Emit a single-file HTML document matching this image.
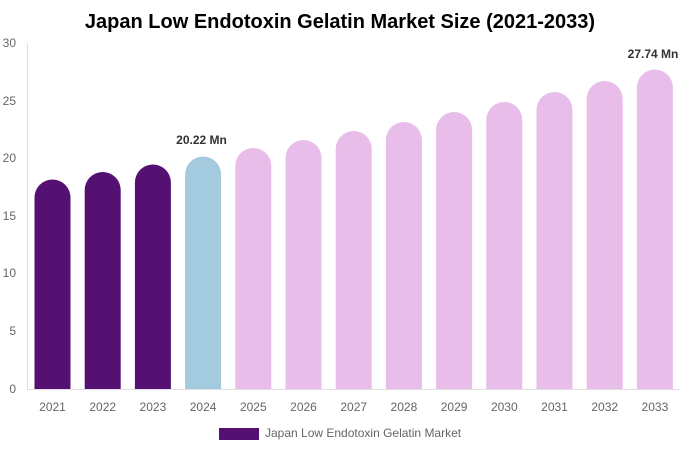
<!DOCTYPE html>
<html><head><meta charset="utf-8"><style>
html,body{margin:0;padding:0;background:#fff;width:680px;height:450px;overflow:hidden}
svg text{font-family:"Liberation Sans",Arial,sans-serif}
</style></head><body>
<svg width="680" height="450" viewBox="0 0 680 450" xmlns="http://www.w3.org/2000/svg">
<text x="340" y="28" text-anchor="middle" font-size="20" font-weight="bold" fill="#000">Japan Low Endotoxin Gelatin Market Size (2021-2033)</text>
<g font-size="12" fill="#666" text-anchor="end">
<text x="16" y="47">30</text><text x="16" y="105">25</text><text x="16" y="162">20</text>
<text x="16" y="220">15</text><text x="16" y="277">10</text><text x="16" y="335">5</text><text x="16" y="393">0</text>
</g>
<line x1="27.5" y1="43" x2="27.5" y2="389" stroke="#e0e0e0" stroke-width="1"/>
<line x1="27" y1="389.5" x2="680" y2="389.5" stroke="#e0e0e0" stroke-width="1"/>
<path d="M34.5,389 V197.5 A18,18 0 0 1 70.5,197.5 V389 Z" fill="#541172"/>
<path d="M84.7,389 V190 A18,18 0 0 1 120.7,190 V389 Z" fill="#541172"/>
<path d="M134.9,389 V182.5 A18,18 0 0 1 170.9,182.5 V389 Z" fill="#541172"/>
<path d="M185.1,389 V174.5 A18,18 0 0 1 221.1,174.5 V389 Z" fill="#a4cadf"/>
<path d="M235.3,389 V166 A18,18 0 0 1 271.3,166 V389 Z" fill="#e8bde9"/>
<path d="M285.5,389 V158 A18,18 0 0 1 321.5,158 V389 Z" fill="#e8bde9"/>
<path d="M335.7,389 V149 A18,18 0 0 1 371.7,149 V389 Z" fill="#e8bde9"/>
<path d="M385.9,389 V140 A18,18 0 0 1 421.9,140 V389 Z" fill="#e8bde9"/>
<path d="M436.1,389 V130 A18,18 0 0 1 472.1,130 V389 Z" fill="#e8bde9"/>
<path d="M486.3,389 V120 A18,18 0 0 1 522.3,120 V389 Z" fill="#e8bde9"/>
<path d="M536.5,389 V110 A18,18 0 0 1 572.5,110 V389 Z" fill="#e8bde9"/>
<path d="M586.7,389 V99 A18,18 0 0 1 622.7,99 V389 Z" fill="#e8bde9"/>
<path d="M636.9,389 V87.5 A18,18 0 0 1 672.9,87.5 V389 Z" fill="#e8bde9"/>
<g font-size="12" fill="#666" text-anchor="middle">
<text x="52.5" y="411">2021</text><text x="102.7" y="411">2022</text><text x="152.9" y="411">2023</text>
<text x="203.1" y="411">2024</text><text x="253.3" y="411">2025</text><text x="303.5" y="411">2026</text>
<text x="353.7" y="411">2027</text><text x="403.9" y="411">2028</text><text x="454.1" y="411">2029</text>
<text x="504.3" y="411">2030</text><text x="554.5" y="411">2031</text><text x="604.7" y="411">2032</text>
<text x="654.9" y="411">2033</text>
</g>
<text x="201.5" y="144" text-anchor="middle" font-size="12" font-weight="bold" fill="#333">20.22 Mn</text>
<text x="653" y="58" text-anchor="middle" font-size="12" font-weight="bold" fill="#333">27.74 Mn</text>
<rect x="219" y="428" width="40" height="12" fill="#541172"/>
<text x="265" y="437" font-size="12" fill="#666">Japan Low Endotoxin Gelatin Market</text>
</svg>
</body></html>
